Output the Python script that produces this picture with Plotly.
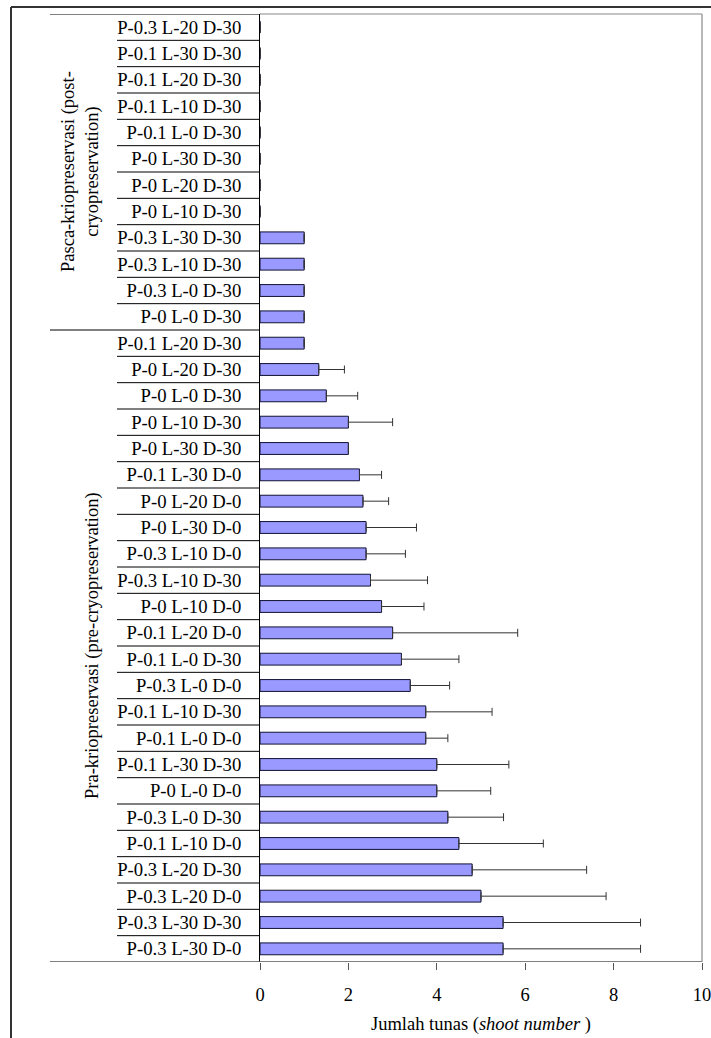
import plotly.graph_objects as go

# ---- data (top to bottom as drawn) ----
groups = ["post"] * 12 + ["pre"] * 24
categories = [
    "P-0.3 L-20 D-30", "P-0.1 L-30 D-30", "P-0.1 L-20 D-30", "P-0.1 L-10 D-30",
    "P-0.1 L-0 D-30", "P-0 L-30 D-30", "P-0 L-20 D-30", "P-0 L-10 D-30",
    "P-0.3 L-30 D-30", "P-0.3 L-10 D-30", "P-0.3 L-0 D-30", "P-0 L-0 D-30",
    "P-0.1 L-20 D-30", "P-0 L-20 D-30", "P-0 L-0 D-30", "P-0 L-10 D-30",
    "P-0 L-30 D-30", "P-0.1 L-30 D-0", "P-0 L-20 D-0", "P-0 L-30 D-0",
    "P-0.3 L-10 D-0", "P-0.3 L-10 D-30", "P-0 L-10 D-0", "P-0.1 L-20 D-0",
    "P-0.1 L-0 D-30", "P-0.3 L-0 D-0", "P-0.1 L-10 D-30", "P-0.1 L-0 D-0",
    "P-0.1 L-30 D-30", "P-0 L-0 D-0", "P-0.3 L-0 D-30", "P-0.1 L-10 D-0",
    "P-0.3 L-20 D-30", "P-0.3 L-20 D-0", "P-0.3 L-30 D-30", "P-0.3 L-30 D-0",
]
means = [
    0, 0, 0, 0, 0, 0, 0, 0, 1, 1, 1, 1,
    1, 1.33, 1.5, 2, 2, 2.25, 2.33, 2.4, 2.4, 2.5, 2.75, 3,
    3.2, 3.4, 3.75, 3.75, 4, 4, 4.25, 4.5, 4.8, 5, 5.5, 5.5,
]
sds = [
    0, 0, 0, 0, 0, 0, 0, 0, 0, 0, 0, 0,
    0, 0.58, 0.71, 1.0, 0, 0.5, 0.58, 1.14, 0.89, 1.29, 0.96, 2.83,
    1.3, 0.89, 1.5, 0.5, 1.63, 1.22, 1.26, 1.91, 2.59, 2.83, 3.11, 3.11,
]
group_titles = {
    "post": "Pasca-kriopreservasi (post-<br>cryopreservation)",
    "pre": "Pra-kriopreservasi (pre-cryopreservation)",
}
x_ticks = [0, 2, 4, 6, 8, 10]
x_title = "Jumlah tunas (<i>shoot number</i> )"

positions = list(range(len(categories)))
FONT = "Liberation Serif"

fig = go.Figure()
fig.add_trace(go.Bar(
    x=means, y=positions, orientation="h",
    marker=dict(color="#9999FF", line=dict(color="#111133", width=1)),
    error_x=dict(type="data", array=sds, arrayminus=[0] * len(sds), symmetric=False,
                 visible=True, color="#333333", thickness=1, width=4),
    width=0.45,
    hoverinfo="x+y",
))

W, H = 711, 1038
L, R, T, B = 260, 9, 14, 76
pw, ph = W - L - R, H - T - B


def px_x(p):
    return (p - L) / pw


def px_y(p):
    return (H - B - p) / ph


shapes = []
n = len(categories)
# category dividers in the label area
for k in range(n + 1):
    yv = k - 0.5
    is_group = k == 0 or k == n or groups[k] != groups[k - 1]
    x0 = px_x(50) if is_group else px_x(117)
    x1 = 1 if k == n else 0
    color = "#555555" if k == n else "black"
    width = 1.6 if k == n else 1
    shapes.append(dict(type="line", xref="paper", yref="y", x0=x0, x1=x1,
                       y0=yv, y1=yv, line=dict(color=color, width=width)))
# plot frame top and right (gray)
shapes.append(dict(type="line", xref="paper", yref="paper", x0=0, x1=1, y0=1, y1=1,
                   line=dict(color="#888888", width=1.2)))
shapes.append(dict(type="line", xref="paper", yref="paper", x0=1, x1=1, y0=0, y1=1,
                   line=dict(color="#888888", width=1.2)))
# outer border (top and left)
shapes.append(dict(type="line", xref="paper", yref="paper", x0=px_x(11), x1=px_x(712),
                   y0=px_y(7), y1=px_y(7), line=dict(color="#333333", width=2)))
shapes.append(dict(type="line", xref="paper", yref="paper", x0=px_x(11), x1=px_x(11),
                   y0=px_y(7), y1=px_y(1040), line=dict(color="#333333", width=2)))

annotations = []
# group labels
for g, cx in (("post", 80), ("pre", 92)):
    idx = [i for i, gg in enumerate(groups) if gg == g]
    mid = (idx[0] + idx[-1]) / 2
    annotations.append(dict(
        text=group_titles[g], xref="paper", yref="y", x=px_x(cx), y=mid,
        textangle=-90, showarrow=False, xanchor="center", yanchor="middle",
        font=dict(family=FONT, size=18.5, color="black"), align="center",
    ))
annotations.append(dict(
    text=x_title, xref="paper", yref="paper", x=0.5, y=px_y(1024),
    showarrow=False, xanchor="center", yanchor="middle",
    font=dict(family=FONT, size=18.5, color="black"),
))

fig.update_layout(
    width=W, height=H,
    margin=dict(l=L, r=R, t=T, b=B, autoexpand=False),
    plot_bgcolor="white", paper_bgcolor="white",
    showlegend=False,
    shapes=shapes, annotations=annotations,
    font=dict(family=FONT, size=18, color="black"),
    xaxis=dict(
        range=[0, 10], tickvals=x_ticks, ticks="outside", ticklen=7,
        tickcolor="#555555", showgrid=False, zeroline=False, showline=False,
        tickfont=dict(family=FONT, size=18.5, color="black"),
        ticklabelstandoff=9, automargin=False, ticklabeloverflow="allow",
    ),
    yaxis=dict(
        range=[n - 0.5, -0.5], tickvals=positions, ticktext=categories,
        showgrid=False, zeroline=False, showline=True, linecolor="black",
        linewidth=1, ticks="", tickfont=dict(family=FONT, size=18.7, color="black"),
        ticklabelstandoff=14, automargin=False, ticklabeloverflow="allow",
    ),
)

fig.write_html("out.html", config={"displayModeBar": False},
               post_script="document.body.style.margin='0';document.body.style.overflow='hidden';")
